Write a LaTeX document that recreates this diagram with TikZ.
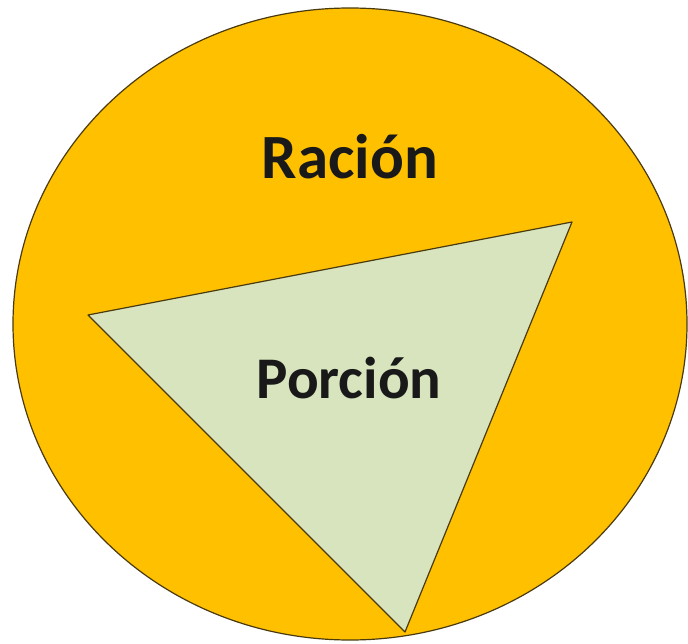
\documentclass[tikz,border=0pt]{standalone}
\usepackage{fontspec}
\setmainfont{Carlito}
\definecolor{gold}{HTML}{FFC000}
\definecolor{pale}{HTML}{D7E4BD}
\definecolor{edge}{HTML}{4A3A10}
\begin{document}
\begin{tikzpicture}[x=1pt,y=-1pt,
  shapeline/.style={draw=edge,line width=1.2pt,line join=round},
  lbl/.style={text=black!90,inner sep=0pt}]
\useasboundingbox (0,0) rectangle (688,644);
\draw[shapeline,fill=gold] (350,324) ellipse [x radius=337, y radius=316];
\coordinate (a) at (88,315);
\coordinate (b) at (572,222);
\coordinate (c) at (405,632);
\draw[shapeline,fill=pale] (a) -- (b) -- (c) -- cycle;
\node[lbl,font=\fontsize{63}{70}\selectfont\bfseries] (racion) at (350,157) {Ración};
\node[lbl,font=\fontsize{59}{66}\selectfont\bfseries] (porcion) at (349,378) {Porción};
\end{tikzpicture}
\end{document}
